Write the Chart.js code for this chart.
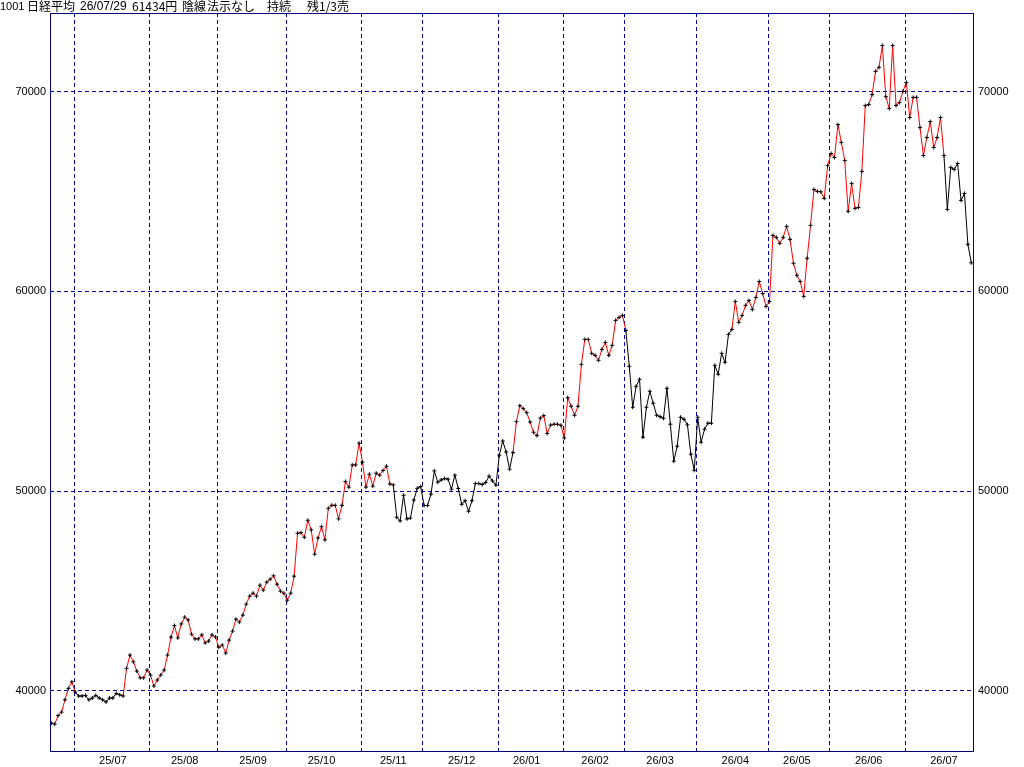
<!DOCTYPE html>
<html>
<head>
<meta charset="utf-8">
<script src="https://cdn.jsdelivr.net/npm/chart.js@4.4.1/dist/chart.umd.min.js"></script>
<style>
  html, body { margin: 0; padding: 0; background: #fff; }
  #chart { display: block; }
</style>
</head>
<body>
<canvas id="chart" width="1024" height="767"></canvas>
<script>
// Header line (code, name, date, close, candle, signal, state)
const titleParts = ['1001', '日経平均', '26/07/29', '61434円', '陰線', '法示なし', '持続', '残1/3売'];

// Month ticks (index of first trading day, index where the label sits)
const monthLabels = ['25/07', '25/08', '25/09', '25/10', '25/11', '25/12', '26/01', '26/02', '26/03', '26/04', '26/05', '26/06', '26/07'];
const monthStarts = [7, 29, 49, 69, 91, 109, 131, 150, 168, 189, 210, 228, 250];
const monthLabelAt = [18, 39, 59, 79, 100, 120, 139, 159, 178, 200, 218, 239, 261];

// Price ticks
const priceTicks = [40000, 50000, 60000, 70000];

// Daily closes 25/06/20 .. 26/07/29 (one per trading day)
const closes = [
    38380, 38330, 38760, 38930, 39550, 40120, 40450, 39940, 39740, 39740,
    39770, 39550, 39640, 39770, 39640, 39550, 39440, 39640, 39640, 39870,
    39800, 39740, 41120, 41790, 41450, 40990, 40650, 40650, 41040, 40790,
    40240, 40540, 40790, 41040, 41790, 42690, 43270, 42650, 43350, 43690,
    43550, 42840, 42600, 42600, 42800, 42400, 42490, 42800, 42690, 42180,
    42290, 41890, 42540, 42990, 43590, 43440, 43790, 44340, 44740, 44890,
    44740, 45290, 45040, 45440, 45590, 45760, 45340, 44990, 44890, 44540,
    44890, 45740, 47890, 47920, 47690, 48540, 48060, 46840, 47660, 48220,
    47560, 49140, 49290, 49290, 48610, 49290, 50480, 50200, 51310, 51310,
    52400, 51450, 50200, 50850, 50250, 50900, 50800, 51030, 51250, 50360,
    50310, 48690, 48510, 49790, 48610, 48650, 49550, 50140, 50230, 49280,
    49280, 49850, 51010, 50450, 50560, 50630, 50600, 50100, 50800, 50130,
    49340, 49520, 48990, 49520, 50380, 50380, 50330, 50430, 50750, 50510,
    50300, 51800, 52510, 51960, 51100, 51930, 53480, 54280, 54130, 53930,
    53460, 52950, 52780, 53660, 53780, 52890, 53310, 53350, 53350, 53300,
    52660, 54680, 54250, 53800, 54250, 56350, 57600, 57600, 56900, 56800,
    56550, 57100, 57450, 56800, 57300, 58550, 58700, 58800, 58050, 56250,
    54200, 55250, 55600, 52700, 54200, 55000, 54400, 53800, 53730, 53650,
    55150, 53350, 51500, 52250, 53700, 53600, 53320, 51850, 51040, 53700,
    52450, 53100, 53400, 53400, 56300, 55850, 56900, 56450, 57850, 58100,
    59500, 58450, 58800, 59300, 59550, 59100, 59700, 60500, 59900, 59250,
    59500, 62810, 62710, 62410, 62710, 63260, 62610, 61410, 60810, 60500,
    59750, 61660, 63310, 65110, 65010, 64990, 64660, 66300, 66910, 66710,
    68360, 67460, 66560, 64010, 65410, 64160, 64210, 66010, 69310, 69360,
    69860, 71020, 71220, 72320, 69760, 69160, 72320, 69310, 69460, 70020,
    70470, 68710, 69720, 69720, 68210, 66810, 67710, 68510, 67210, 67710,
    68710, 66810, 64110, 66210, 66110, 66410, 64560, 64910, 62360, 61434
];

// Trend state runs: [first segment index, state] (up = red, down = black)
const trendRuns = [[0, 'up'], [7, 'down'], [21, 'up'], [100, 'down'], [135, 'up'], [168, 'down'], [199, 'up'], [261, 'down']];

const NAVY = '#000080';
const GRID = '#0000a0';
const TICK_FONT = { family: '"Liberation Sans", Arial, sans-serif', size: 11 };

function trendAt(i) {
    let state = trendRuns[0][1];
    trendRuns.forEach(r => { if (i >= r[0]) state = r[1]; });
    return state;
}

// Frame around the plot + white background + header text
const framePlugin = {
    id: 'frame',
    beforeDraw(chart) {
        const ctx = chart.ctx;
        ctx.save();
        ctx.fillStyle = '#fff';
        ctx.fillRect(0, 0, chart.width, chart.height);
        ctx.restore();
    },
    afterDraw(chart) {
        const ctx = chart.ctx;
        const a = chart.chartArea;
        ctx.save();
        ctx.strokeStyle = NAVY;
        ctx.lineWidth = 1;
        ctx.strokeRect(Math.round(a.left) + 0.5, Math.round(a.top) + 0.5,
            Math.round(a.right - a.left) - 1, Math.round(a.bottom - a.top) - 1);
        // header: latin-only pieces in a narrower face, the rest in the CJK face
        const xs = [0, 27, 80, 132, 182, 207, 267, 307];
        const latin = '11px "Liberation Sans", Arial, sans-serif';
        const latinWide = '12px "Liberation Sans", Arial, sans-serif';
        const cjk = '12px "Noto Sans CJK JP", sans-serif';
        ctx.fillStyle = '#000';
        ctx.textBaseline = 'top';
        titleParts.forEach((t, i) => {
            const isLatin = /^[0-9\/ ]+$/.test(t);
            ctx.font = isLatin ? (i === 0 ? latin : latinWide) : cjk;
            ctx.fillText(t, xs[i], isLatin ? 1 : 0);
        });
        ctx.restore();
    }
};

const gridTicks = monthStarts.map(v => v - 0.33);

new Chart(document.getElementById('chart'), {
    type: 'line',
    data: {
        datasets: [{
            data: closes.map((v, i) => ({ x: i, y: v })),
            borderWidth: 1,
            borderColor: '#000',
            tension: 0,
            pointStyle: 'cross',
            pointRadius: 2,
            pointBorderWidth: 1,
            pointBorderColor: '#000',
            pointBackgroundColor: '#000',
            segment: {
                borderColor: ctx => trendAt(ctx.p0DataIndex) === 'up' ? '#ff0000' : '#000000'
            }
        }]
    },
    options: {
        responsive: false,
        animation: false,
        layout: { padding: { top: 13, left: 0, right: 0, bottom: 0 } },
        plugins: { legend: { display: false }, tooltip: { enabled: false }, title: { display: false } },
        scales: {
            x: {
                type: 'linear',
                min: -0.38,
                max: 269.79,
                afterFit: s => { s.height = 15; },
                afterBuildTicks: s => {
                    s.ticks = gridTicks.concat(monthLabelAt).sort((a, b) => a - b).map(v => ({ value: v }));
                },
                grid: {
                    drawTicks: false,
                    lineWidth: 1,
                    color: c => (c.tick && gridTicks.includes(c.tick.value)) ? GRID : 'rgba(0,0,0,0)'
                },
                border: { display: false, dash: [4, 3] },
                ticks: {
                    autoSkip: false,
                    maxRotation: 0,
                    padding: 2,
                    color: '#000',
                    font: TICK_FONT,
                    callback: v => {
                        const k = monthLabelAt.indexOf(v);
                        return k >= 0 ? monthLabels[k] : '';
                    }
                }
            },
            y: {
                position: 'left',
                min: 36935,
                max: 73946,
                afterFit: s => { s.width = 50; },
                afterBuildTicks: s => { s.ticks = priceTicks.map(v => ({ value: v })); },
                grid: { drawTicks: false, color: GRID, lineWidth: 1 },
                border: { display: false, dash: [4, 3] },
                ticks: { padding: 4, color: '#000', font: TICK_FONT, callback: v => String(v) }
            },
            y2: {
                position: 'right',
                min: 36935,
                max: 73946,
                afterFit: s => { s.width = 50; },
                afterBuildTicks: s => { s.ticks = priceTicks.map(v => ({ value: v })); },
                grid: { display: false, drawTicks: false },
                border: { display: false },
                ticks: { padding: 4, color: '#000', font: TICK_FONT, callback: v => String(v) }
            }
        }
    },
    plugins: [framePlugin]
});
</script>
</body>
</html>
